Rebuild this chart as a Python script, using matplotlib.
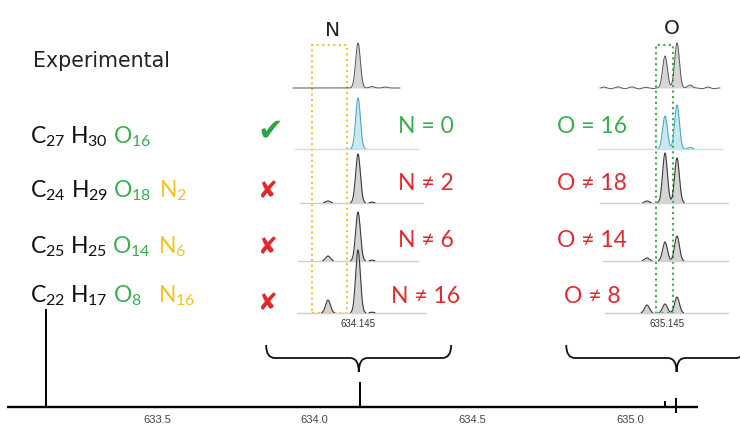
import numpy as np
import matplotlib
matplotlib.use('Agg')
import matplotlib.pyplot as plt
from matplotlib.path import Path
from matplotlib.patches import PathPatch, Rectangle

plt.rcParams['mathtext.fontset'] = 'custom'
plt.rcParams['mathtext.rm'] = 'Lato'
plt.rcParams['mathtext.it'] = 'Lato:italic'
plt.rcParams['mathtext.bf'] = 'Lato:bold'

W, H = 740, 425
green = '#34b04c'
yellow = '#f5c21f'
red = '#e5282c'

# full spectrum
main_mz = [633.148, 634.145, 635.111, 635.145]
main_top = [1.0, 0.255, 0.06, 0.09]
main_low = [0, 0, 0, -0.06]
main_ticks = [633.5, 634.0, 634.5, 635.0]
mz_range = (633.024, 635.216)

# candidate formulas (element, count, colour)
formulas = [
    [('C', '27', '#111'), ('H', '30', '#111'), ('O', '16', green)],
    [('C', '24', '#111'), ('H', '29', '#111'), ('O', '18', green), ('N', '2', yellow)],
    [('C', '25', '#111'), ('H', '25', '#111'), ('O', '14', green), ('N', '6', yellow)],
    [('C', '22', '#111'), ('H', '17', '#111'), ('O', '8', green), ('N', '16', yellow)],
]
verdict = [True, False, False, False]
n_labels = ['N = 0', 'N ≠ 2', 'N ≠ 6', 'N ≠ 16']
o_labels = ['O = 16', 'O ≠ 18', 'O ≠ 14', 'O ≠ 8']

# zoomed windows: row 0 = experimental, rows 1-4 = candidates
row_offset = [225, 164, 110, 52, 0]

n_peak_mz = [634.133, 634.145, 634.1506, 634.1558]
n_heights = [[0, 45, 1.5, 1], [0, 51, 0, 0], [2, 49, 0.8, 0], [5, 49, 0.8, 0], [13, 63, 0.8, 0]]
n_span = [(634.1190, 634.1618), (634.1198, 634.1690), (634.1218, 634.1710),
          (634.1210, 634.1690), (634.1206, 634.1718)]
n_box = (634.1266, 634.1406)

o_peak_mz = [635.137, 635.1442, 635.149, 635.1542]
o_heights = [[0, 32, 45, 3], [0, 33, 44, 1.5], [2, 50, 45, 0], [3, 19, 25, 0], [8, 9, 16, 0]]
o_span = [(635.1182, 635.1662), (635.1174, 635.1670), (635.1182, 635.1694),
          (635.1194, 635.1694), (635.1202, 635.1694)]
o_box = (635.1406, 635.1474)

# baseline wiggle of the experimental O window
o_noise_mz = [635.1198, 635.1226, 635.1254, 635.1282, 635.1310, 635.1338, 635.1366,
              635.1394, 635.1590, 635.1614, 635.1638]
o_noise_h = [1.0, -0.8, 1.2, -0.7, 1.1, -0.9, 0.8, -0.6, -0.7, 1.0, -0.7]

sigma = 0.00095


def box(x0, y_top, x1, y_bot):
    return [x0 / W, 1 - y_bot / H, (x1 - x0) / W, (y_bot - y_top) / H]


def profile(x, centres, heights, s=sigma):
    y = np.zeros_like(x)
    for c, h in zip(centres, heights):
        y += h * np.exp(-(x - c) ** 2 / (2 * s ** 2))
    return y


fig = plt.figure(figsize=(7.4, 4.25), dpi=100)

# ---- full spectrum at the bottom
ax = fig.add_axes(box(7, 309, 698, 407))
ax.hlines(0, mz_range[0], mz_range[1], color='k', lw=1.7, clip_on=False)
ax.vlines(main_mz, main_low, main_top, color='k', lw=1.4, clip_on=False)
ax.set_xlim(mz_range)
ax.set_ylim(0, 1)
ax.set_xticks(main_ticks)
ax.set_xticklabels([f'{t:.1f}' for t in main_ticks], family='Liberation Sans')
ax.tick_params(axis='x', length=0, pad=6, labelsize=8, labelcolor='#444')
ax.set_yticks([])
for s in ax.spines.values():
    s.set_visible(False)


def brace(x0, x1, xt, y_top=0.633, y_mid=0.5, y_tip=0.357, r=0.028):
    verts = [(x0, y_top), (x0, y_mid), (x0 + r, y_mid), (xt - r, y_mid),
             (xt, y_mid), (xt, y_tip), (xt, y_mid), (xt + r, y_mid),
             (x1 - r, y_mid), (x1, y_mid), (x1, y_top)]
    codes = [Path.MOVETO, Path.CURVE3, Path.CURVE3, Path.LINETO,
             Path.CURVE3, Path.CURVE3, Path.CURVE3, Path.CURVE3,
             Path.LINETO, Path.CURVE3, Path.CURVE3]
    ax.add_patch(PathPatch(Path(verts, codes), fill=False, lw=1.3,
                           ec='#111', clip_on=False))


brace(633.846, 634.433, 634.140)
brace(634.798, 635.365, 635.148)


# ---- zoomed windows
def window(pos, xlim, centres, heights, spans, bx, bcol, tick):
    a = fig.add_axes(pos)
    for i in range(5):
        x = np.linspace(spans[i][0], spans[i][1], 600)
        y = profile(x, centres, heights[i])
        off = row_offset[i]
        if i == 0:
            if centres[0] > 635:
                y += profile(x, o_noise_mz, o_noise_h, 0.0006)
            a.fill_between(x, off, off + np.clip(y, 0, None), color='#d6d6d6', lw=0)
            a.plot(x, off + y, color='#555', lw=0.7)
            continue
        if i == 1:
            base, edge, fill = '#c5e4ea', '#48aebf', '#cbe8ee'
        else:
            base, edge, fill = '#cfcfcf', '#3a3a3a', '#d4d4d4'
        a.plot(x, np.full_like(x, off), color=base, lw=1.0)
        a.fill_between(x, off, off + y, color=fill, lw=0)
        a.plot(x, np.where(y > 0.4, off + y, np.nan), color=edge, lw=0.8)
    a.add_patch(Rectangle((bx[0], 0), bx[1] - bx[0], 268, fill=False,
                          ec=bcol, lw=1.5, ls=':'))
    a.set_xlim(xlim)
    a.set_ylim(-5, 273)
    a.set_xticks([tick])
    a.set_xticklabels([f'{tick:.3f}'], family='Liberation Sans')
    a.tick_params(axis='x', length=0, pad=1, labelsize=7, labelcolor='#333')
    a.set_yticks([])
    for s in a.spines.values():
        s.set_visible(False)


window(box(290, 40, 430, 318), (634.1178, 634.1738), n_peak_mz, n_heights,
       n_span, n_box, yellow, 634.145)
window(box(596, 40, 732, 318), (635.1166, 635.1710), o_peak_mz, o_heights,
       o_span, o_box, green, 635.145)

# ---- text
tx = fig.add_axes([0, 0, 1, 1])
tx.axis('off')
tx.set_xlim(0, W)
tx.set_ylim(H, 0)

tx.text(33, 67, 'Experimental', fontsize=14.8, family='DejaVu Sans', color='#222')
tx.text(333, 30, 'N', fontsize=14.5, family='DejaVu Sans', color='#222', ha='center', va='center')
tx.text(672, 28, 'O', fontsize=14.5, family='DejaVu Sans', color='#222', ha='center', va='center')

base_y = [143, 197, 253, 302]
gaps = [[3.6, 3.6, 5.5], [3.6, 3.6, 5.5], [3.6, 3.6, 5.5], [3.6, 3.6, 11.5]]
for r, parts in enumerate(formulas):
    el, n, c = parts[0]
    t = tx.text(30, base_y[r], f'{el}$_{{{n}}}$', fontsize=16.5, family='Lato', color=c)
    for j, (el, n, c) in enumerate(parts[1:]):
        t = tx.annotate(f'{el}$_{{{n}}}$', xy=(1, 0), xycoords=t,
                        xytext=(gaps[r][j], 0), textcoords='offset points',
                        va='bottom', ha='left', fontsize=16.5, family='Lato', color=c)

mark_y = [131, 191, 247, 303]
for r, ok in enumerate(verdict):
    if ok:
        tx.text(270, mark_y[r], '✔', fontsize=22, color='#2ca444', family='DejaVu Sans',
                ha='center', va='center')
    else:
        tx.text(267, mark_y[r], '✘', fontsize=17, color=red, family='DejaVu Sans',
                ha='center', va='center')

lab_y = [133, 190, 247, 303]
for r in range(4):
    tx.text(426, lab_y[r], n_labels[r], fontsize=16.5, family=['Lato', 'DejaVu Sans'],
            color=green if '=' in n_labels[r] else red, ha='center')
    tx.text(592, lab_y[r], o_labels[r], fontsize=16.5, family=['Lato', 'DejaVu Sans'],
            color=green if '=' in o_labels[r] else red, ha='center')

fig.savefig('out.png', dpi=100, facecolor='white')
